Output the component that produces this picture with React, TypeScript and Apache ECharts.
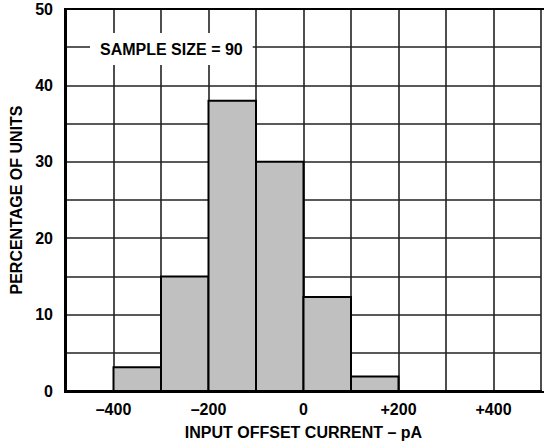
import React, { useEffect, useRef } from "react";
import * as echarts from "echarts";

const binStarts = [-400, -300, -200, -100, 0, 100];
const binEnds = [-300, -200, -100, 0, 100, 200];
const percentages = [3.1, 15.0, 38.0, 30.0, 12.3, 1.9];
const xTickLabels = ["\u2013400", "\u2013200", "0", "+200", "+400"];
const xTickValues = [-400, -200, 0, 200, 400];
const yTickValues = [0, 10, 20, 30, 40, 50];
const sampleText = "SAMPLE SIZE = 90";

const FONT = "'Liberation Sans', Arial, Helvetica, sans-serif";

export default function App() {
  const ref = useRef<HTMLDivElement>(null);
  useEffect(() => {
    if (!ref.current) return;
    const chart = echarts.init(ref.current, null, { renderer: "svg" });
    const data = binStarts.map((s, i) => [s, binEnds[i], percentages[i]]);
    chart.setOption({
      animation: false,
      backgroundColor: "#ffffff",
      grid: { left: 65, top: 9, width: 480, height: 383, show: false },
      xAxis: {
        type: "value",
        min: -500,
        max: 500,
        interval: 100,
        name: "INPUT OFFSET CURRENT \u2013 pA",
        nameLocation: "middle",
        nameGap: 33,
        nameTextStyle: { fontFamily: FONT, fontWeight: "bold", fontSize: 16, color: "#000" },
        axisLine: { show: true, onZero: false, lineStyle: { color: "#000", width: 2 } },
        axisTick: { show: false },
        axisLabel: {
          margin: 10,
          fontFamily: FONT,
          fontWeight: "bold",
          fontSize: 16,
          color: "#000",
          formatter: (v: number) => {
            const idx = xTickValues.indexOf(v);
            return idx >= 0 ? xTickLabels[idx] : "";
          },
        },
        splitLine: { show: true, lineStyle: { color: "#222", width: 1.6 } },
      },
      yAxis: {
        type: "value",
        min: 0,
        max: 50,
        interval: 5,
        name: "PERCENTAGE OF UNITS",
        nameLocation: "middle",
        nameGap: 42,
        nameTextStyle: { fontFamily: FONT, fontWeight: "bold", fontSize: 16, color: "#000" },
        axisLine: { show: true, onZero: false, lineStyle: { color: "#000", width: 2 } },
        axisTick: { show: false },
        axisLabel: {
          margin: 13,
          fontFamily: FONT,
          fontWeight: "bold",
          fontSize: 16,
          color: "#000",
          formatter: (v: number) => (yTickValues.indexOf(v) >= 0 ? String(v) : ""),
        },
        splitLine: { show: true, lineStyle: { color: "#222", width: 1.6 } },
      },
      series: [
        {
          type: "custom",
          data,
          encode: { x: [0, 1], y: 2 },
          renderItem: (params: any, api: any) => {
            const x0 = api.value(0);
            const x1 = api.value(1);
            const v = api.value(2);
            const p0 = api.coord([x0, v]);
            const p1 = api.coord([x1, 0]);
            return {
              type: "rect",
              shape: { x: p0[0], y: p0[1], width: p1[0] - p0[0], height: p1[1] - p0[1] },
              style: { fill: "#c0c0c0", stroke: "#000", lineWidth: 2 },
            };
          },
          z: 2,
        },
      ],
      graphic: [
        {
          type: "line",
          shape: { x1: 64, y1: 9, x2: 545, y2: 9 },
          style: { stroke: "#000", lineWidth: 2 },
          z: 10,
        },
        {
          type: "line",
          shape: { x1: 65, y1: 8, x2: 65, y2: 393 },
          style: { stroke: "#000", lineWidth: 2 },
          z: 10,
        },
        {
          type: "line",
          shape: { x1: 64, y1: 392, x2: 545, y2: 392 },
          style: { stroke: "#000", lineWidth: 2 },
          z: 10,
        },
        {
          type: "text",
          left: 90,
          top: 33,
          z: 10,
          style: {
            text: sampleText,
            fontFamily: FONT,
            fontWeight: "bold",
            fontSize: 16,
            fill: "#000",
            backgroundColor: "#fff",
            padding: [8, 10],
          },
        },
      ],
    });
    return () => chart.dispose();
  }, []);
  return <div ref={ref} style={{ width: 544, height: 445, position: "absolute", left: 0, top: 0 }} />;
}
